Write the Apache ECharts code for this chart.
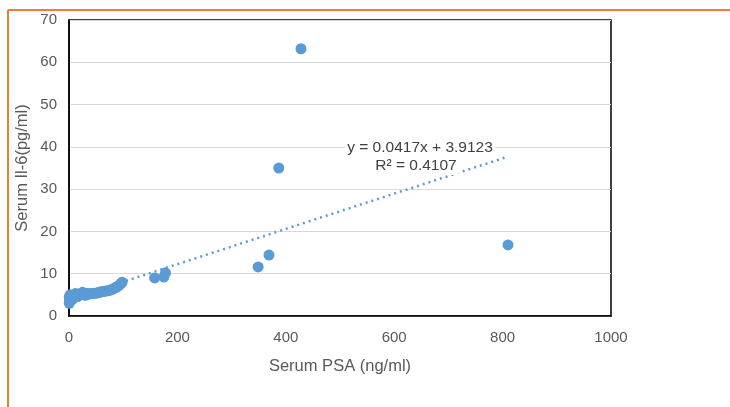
<!DOCTYPE html>
<html>
<head>
<meta charset="utf-8">
<script src="https://cdn.jsdelivr.net/npm/echarts@6/dist/echarts.min.js"></script>
<style>html,body{margin:0;padding:0;background:#fff}#c{width:730px;height:407px}</style>
</head>
<body>
<div id="c"></div>
<script>
// Serum PSA (ng/ml) values
const psa = [0.5, 1, 1.5, 2, 3, 4, 5, 7, 9, 11, 13, 15, 18, 20, 23, 26, 29, 32, 35, 38, 41, 44, 47, 50, 53, 56, 59, 62, 65, 68, 72, 75, 78, 81, 84, 87, 90, 93, 96, 98,
  0.5, 2, 5, 8, 12, 16, 25, 30,
  158, 175, 178, 349, 369, 387, 428, 810];
// Serum Il-6 (pg/ml) values
const il6 = [3.0, 3.5, 4.0, 4.2, 3.8, 4.4, 4.5, 4.6, 4.8, 4.9, 5.0, 5.0, 5.1, 5.2, 5.2, 5.2, 5.3, 5.2, 5.3, 5.2, 5.3, 5.3, 5.4, 5.4, 5.5, 5.6, 5.7, 5.8, 5.8, 5.9, 6.0, 6.1, 6.2, 6.4, 6.6, 6.8, 7.0, 7.3, 7.7, 8.0,
  4.5, 5.0, 3.8, 4.2, 5.3, 4.6, 5.6, 4.9,
  9.0, 9.2, 10.2, 11.6, 14.4, 35.0, 63.2, 16.8];
// Linear trendline (from displayed equation)
const slope = 0.0417, intercept = 3.9123;
const trendX = [0, 810];
const xTicks = [0, 200, 400, 600, 800, 1000];
const yTicks = [0, 10, 20, 30, 40, 50, 60, 70];
const eqText = 'y = 0.0417x + 3.9123';
const r2Text = 'R² = 0.4107';

const pts = psa.map((x, i) => [x, il6[i]]);
const trend = trendX.map(x => [x, slope * x + intercept]);
const font = 'Liberation Sans';
const chart = echarts.init(document.getElementById('c'));
chart.setOption({
  animation: false,
  grid: { left: 69, right: 119, top: 20, bottom: 91, show: true, borderColor: '#000', borderWidth: 1.5, backgroundColor: 'transparent' },
  xAxis: {
    type: 'value', min: xTicks[0], max: xTicks[xTicks.length - 1], interval: 200,
    name: 'Serum PSA (ng/ml)', nameLocation: 'middle', nameGap: 42,
    nameTextStyle: { fontFamily: font, fontSize: 16.5, color: '#595959' },
    axisLine: { show: true, lineStyle: { color: '#000', width: 1.5 } },
    axisTick: { show: false },
    splitLine: { show: false },
    axisLabel: { fontFamily: font, fontSize: 15, color: '#595959', margin: 14, formatter: v => String(v) }
  },
  yAxis: {
    type: 'value', min: yTicks[0], max: yTicks[yTicks.length - 1], interval: 10,
    name: 'Serum Il-6(pg/ml)', nameLocation: 'middle', nameGap: 38, nameMoveOverlap: false,
    nameTextStyle: { fontFamily: font, fontSize: 16.5, color: '#595959' },
    axisLine: { show: true, lineStyle: { color: '#000', width: 1.5 } },
    axisTick: { show: false },
    splitLine: { show: true, lineStyle: { color: '#d9d9d9', width: 1 } },
    axisLabel: { fontFamily: font, fontSize: 15, color: '#595959', margin: 12 }
  },
  series: [
    {
      type: 'line', data: trend, showSymbol: false, symbol: 'none', z: 1,
      lineStyle: { color: '#5B9BD5', width: 2.5, type: [2, 4] }
    },
    {
      type: 'scatter', data: pts, symbolSize: 11, z: 2,
      itemStyle: { color: '#5B9BD5', opacity: 1 }
    }
  ],
  graphic: [
    { type: 'line', shape: { x1: 8, y1: 10, x2: 730, y2: 10 }, style: { stroke: '#ED7D31', lineWidth: 2 } },
    { type: 'line', shape: { x1: 8, y1: 10, x2: 8, y2: 407 }, style: { stroke: '#ED7D31', lineWidth: 2 } },
    { type: 'text', x: 420, y: 148, z: 10, style: { text: eqText, fontFamily: font, fontSize: 15.5, fill: '#404040', align: 'center', verticalAlign: 'middle', backgroundColor: '#fff', padding: [1, 2] } },
    { type: 'text', x: 416, y: 166, z: 10, style: { text: r2Text, fontFamily: font, fontSize: 15.5, fill: '#404040', align: 'center', verticalAlign: 'middle', backgroundColor: '#fff', padding: [1, 2] } }
  ]
});
</script>
</body>
</html>
